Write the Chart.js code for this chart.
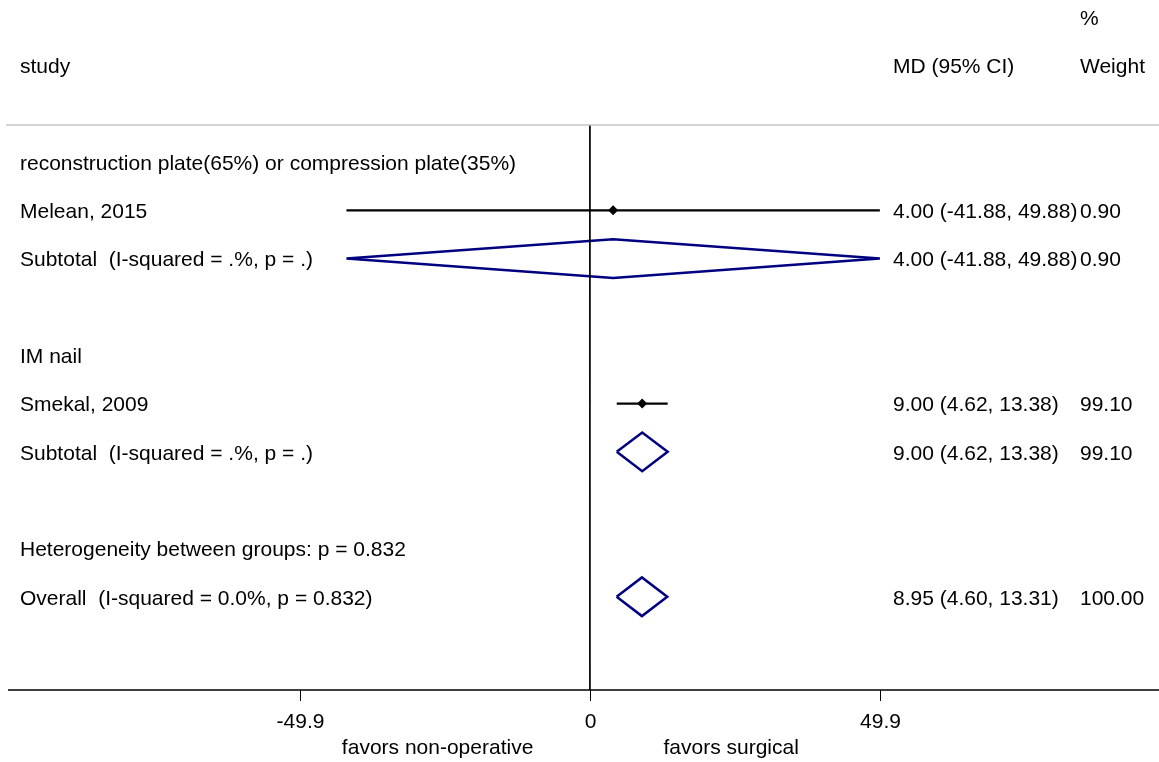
<!DOCTYPE html>
<html>
<head>
<meta charset="utf-8">
<script src="https://cdn.jsdelivr.net/npm/chart.js@4/dist/chart.umd.min.js"></script>
<style>
  html, body { margin: 0; padding: 0; background: #fff; }
  canvas { display: block; }
</style>
</head>
<body>
<canvas id="forest" width="1159" height="762"></canvas>
<script>
// row labels, top to bottom (row index = position in list)
var rowLabels = [
  'reconstruction plate(65%) or compression plate(35%)',
  'Melean, 2015',
  'Subtotal  (I-squared = .%, p = .)',
  '',
  'IM nail',
  'Smekal, 2009',
  'Subtotal  (I-squared = .%, p = .)',
  '',
  'Heterogeneity between groups: p = 0.832',
  'Overall  (I-squared = 0.0%, p = 0.832)'
];

// individual studies
var studyRows   = [1, 5];
var studyES     = [4.00, 9.00];
var studyLo     = [-41.88, 4.62];
var studyHi     = [49.88, 13.38];
var studyWeight = [0.90, 99.10];

// pooled estimates (subtotals + overall)
var poolRows   = [2, 6, 9];
var poolES     = [4.00, 9.00, 8.95];
var poolLo     = [-41.88, 4.62, 4.60];
var poolHi     = [49.88, 13.38, 13.31];
var poolWeight = [0.90, 99.10, 100.00];

var xTicks = [-49.9, 0, 49.9];
var favorLabels = ['favors non-operative', 'favors surgical'];
var favorPos = [-26.2, 24.3];

var FONT = '21px "Liberation Sans", Arial, sans-serif';
var TY = 2; // small baseline nudge for text

function fmtCI(es, lo, hi) {
  return es.toFixed(2) + ' (' + lo.toFixed(2) + ', ' + hi.toFixed(2) + ')';
}

var datasets = [];

// null line
datasets.push({
  data: [{x: 0, y: -0.766}, {x: 0, y: 10.93}],
  showLine: true, borderColor: '#000', borderWidth: 1, pointRadius: 0
});

// CI lines
studyRows.forEach(function(r, i) {
  datasets.push({
    data: [{x: studyLo[i], y: r}, {x: studyHi[i], y: r}],
    showLine: true, borderColor: '#000', borderWidth: 2.2, pointRadius: 0
  });
});

// point estimates
datasets.push({
  data: studyRows.map(function(r, i) { return {x: studyES[i], y: r}; }),
  pointStyle: 'rectRot', pointRadius: 5,
  backgroundColor: '#000', borderColor: '#000', borderWidth: 0
});

// diamonds
poolRows.forEach(function(r, i) {
  var h = 0.4;
  datasets.push({
    data: [
      {x: poolLo[i], y: r}, {x: poolES[i], y: r - h},
      {x: poolHi[i], y: r}, {x: poolES[i], y: r + h},
      {x: poolLo[i], y: r}
    ],
    showLine: true, borderColor: '#000080', borderWidth: 2.5,
    pointRadius: 0, fill: false, tension: 0
  });
});

var textPlugin = {
  id: 'forestText',
  afterDraw: function(chart) {
    var ctx = chart.ctx;
    var xs = chart.scales.x, ys = chart.scales.y;
    var area = chart.chartArea;
    ctx.save();
    ctx.font = FONT;
    ctx.fillStyle = '#000';
    ctx.textBaseline = 'middle';
    ctx.textAlign = 'left';

    // headers
    ctx.fillText('%', 1080, ys.getPixelForValue(-3) + TY);
    ctx.fillText('study', 20, ys.getPixelForValue(-2) + TY);
    ctx.fillText('MD (95% CI)', 893, ys.getPixelForValue(-2) + TY);
    ctx.fillText('Weight', 1080, ys.getPixelForValue(-2) + TY);

    // row labels
    rowLabels.forEach(function(t, r) {
      if (t) ctx.fillText(t, 20, ys.getPixelForValue(r) + TY);
    });

    // estimates + weights
    studyRows.forEach(function(r, i) {
      var y = ys.getPixelForValue(r) + TY;
      ctx.fillText(fmtCI(studyES[i], studyLo[i], studyHi[i]), 893, y);
      ctx.fillText(studyWeight[i].toFixed(2), 1080, y);
    });
    poolRows.forEach(function(r, i) {
      var y = ys.getPixelForValue(r) + TY;
      ctx.fillText(fmtCI(poolES[i], poolLo[i], poolHi[i]), 893, y);
      ctx.fillText(poolWeight[i].toFixed(2), 1080, y);
    });

    // top rule
    ctx.strokeStyle = '#c4c4c4';
    ctx.lineWidth = 1.5;
    ctx.beginPath();
    ctx.moveTo(6, area.top);
    ctx.lineTo(chart.width, area.top);
    ctx.stroke();

    // x axis
    ctx.strokeStyle = '#000';
    ctx.lineWidth = 1.5;
    ctx.beginPath();
    ctx.moveTo(area.left, area.bottom);
    ctx.lineTo(area.right, area.bottom);
    ctx.stroke();

    ctx.lineWidth = 1;
    ctx.textAlign = 'center';
    xTicks.forEach(function(v) {
      var px = Math.round(xs.getPixelForValue(v)) + 0.5;
      ctx.beginPath();
      ctx.moveTo(px, area.bottom);
      ctx.lineTo(px, area.bottom + 11);
      ctx.stroke();
      ctx.fillText(String(v), px, area.bottom + 30 + TY);
    });
    favorLabels.forEach(function(t, i) {
      ctx.fillText(t, xs.getPixelForValue(favorPos[i]), area.bottom + 56 + TY);
    });
    ctx.restore();
  }
};

new Chart(document.getElementById('forest'), {
  type: 'scatter',
  data: { datasets: datasets },
  options: {
    responsive: false,
    animation: false,
    devicePixelRatio: 1,
    layout: { autoPadding: false, padding: { top: 125, bottom: 72, left: 8, right: 0 } },
    plugins: { legend: { display: false }, tooltip: { enabled: false } },
    scales: {
      x: { type: 'linear', min: -100.1, max: 97.9, display: false },
      y: { type: 'linear', min: -0.766, max: 10.93, reverse: true, display: false }
    }
  },
  plugins: [textPlugin]
});
</script>
</body>
</html>
